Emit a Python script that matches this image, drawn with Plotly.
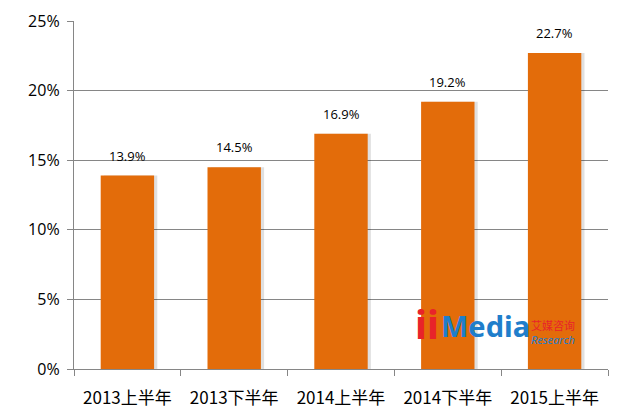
import plotly.graph_objects as go

categories = ["2013上半年", "2013下半年", "2014上半年", "2014下半年", "2015上半年"]
values = [13.9, 14.5, 16.9, 19.2, 22.7]
labels = ["13.9%", "14.5%", "16.9%", "19.2%", "22.7%"]
ytick_vals = [0, 5, 10, 15, 20, 25]
ytick_text = ["0%", "5%", "10%", "15%", "20%", "25%"]

fig = go.Figure()
# subtle shadow
fig.add_trace(go.Bar(
    x=categories, y=values, width=0.5, offset=-0.25 + 0.03,
    marker=dict(color="rgba(0,0,0,0.12)", line=dict(width=0)),
    hoverinfo="skip", showlegend=False,
))
fig.add_trace(go.Bar(
    x=categories, y=values, width=0.5, offset=-0.25,
    marker=dict(color="#E36C0A", line=dict(width=0)),
    showlegend=False,
))

for c, v, t in zip(categories, values, labels):
    fig.add_annotation(x=c, y=v, text=t, showarrow=False, yanchor="bottom", yshift=9,
                       font=dict(family="Open Sans, Noto Sans, sans-serif", size=13, color="#000000"))

fig.update_layout(
    width=641, height=415,
    margin=dict(l=74, r=33, t=21, b=46),
    paper_bgcolor="white", plot_bgcolor="white",
    barmode="overlay",
    font=dict(family="Noto Sans CJK SC, Noto Sans, sans-serif", color="#000000"),
    xaxis=dict(
        automargin=False,
        showline=True, linecolor="#868686", linewidth=1.3,
        ticks="outside", ticklen=6, tickcolor="#868686",
        tickson="boundaries", ticklabelstandoff=13,
        tickfont=dict(family="Noto Sans CJK SC, sans-serif", size=17, color="#000000"),
        showgrid=False,
    ),
    yaxis=dict(
        automargin=False,
        range=[0, 25], tickvals=ytick_vals, ticktext=ytick_text,
        showline=True, linecolor="#868686", linewidth=1.3,
        ticks="outside", ticklen=6, tickcolor="#868686",
        showgrid=True, gridcolor="#868686", gridwidth=1,
        zeroline=False, ticklabelstandoff=4,
        tickfont=dict(family="Open Sans, Noto Sans, sans-serif", size=16, color="#000000"),
    ),
)

# watermark logo as text
fig.add_annotation(xref="paper", yref="paper", x=0.661, y=0.13, xanchor="center", yanchor="middle",
                   text="<b>ii</b>", showarrow=False,
                   font=dict(family="Noto Sans, sans-serif", size=40, color="#E8232A"))
fig.add_annotation(xref="paper", yref="paper", x=0.683, y=0.125, xanchor="left", yanchor="middle",
                   text="<b>Media</b>", showarrow=False,
                   font=dict(family="Noto Sans, sans-serif", size=29, color="#1F7ECB"))
fig.add_annotation(xref="paper", yref="paper", x=0.852, y=0.127, xanchor="left", yanchor="middle",
                   text="艾媒咨询", showarrow=False,
                   font=dict(family="Noto Sans CJK SC, sans-serif", size=11, color="#E8232A"))
fig.add_annotation(xref="paper", yref="paper", x=0.852, y=0.085, xanchor="left", yanchor="middle",
                   text="<i>Research</i>", showarrow=False,
                   font=dict(family="Noto Sans, sans-serif", size=11, color="#1F7ECB"))

fig.write_html("out.html", config={"displayModeBar": False},
               post_script="document.body.style.margin='0';")
